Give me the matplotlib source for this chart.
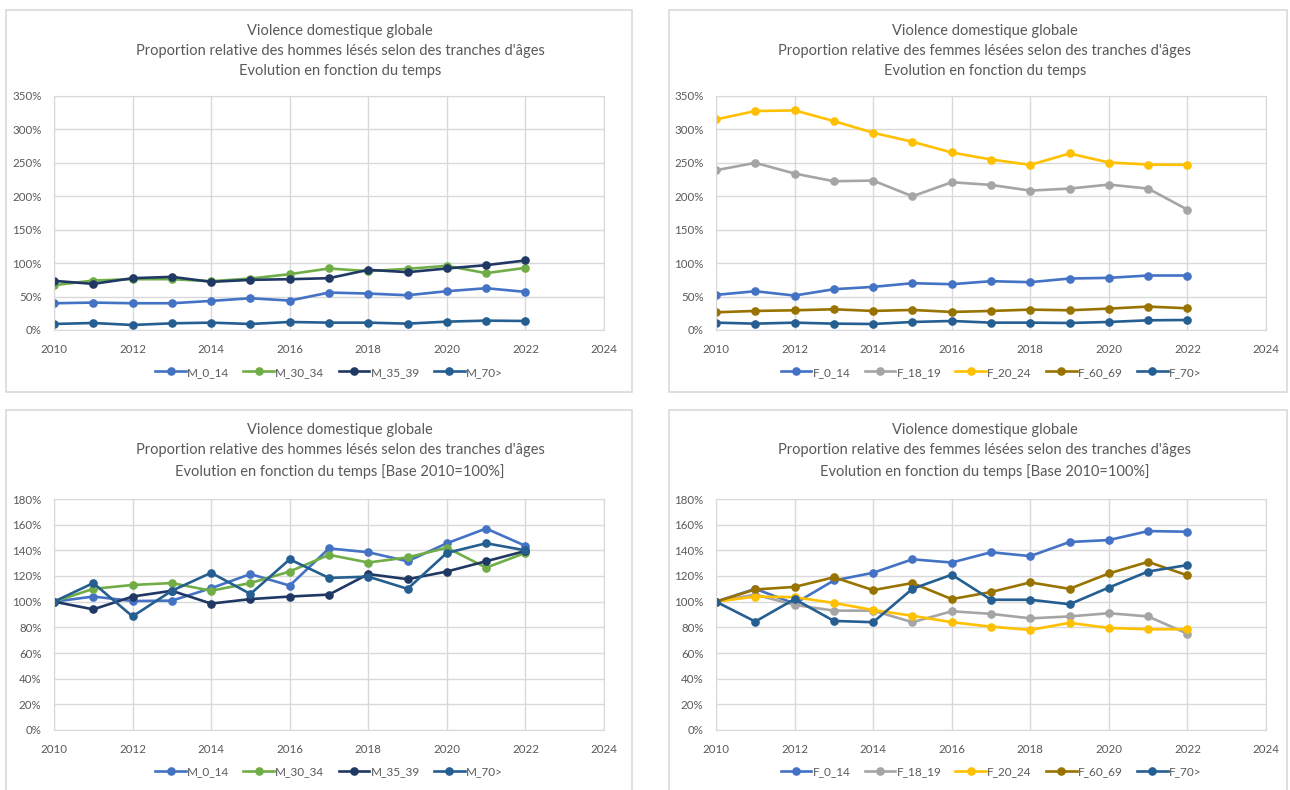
import matplotlib
matplotlib.use('Agg')
import matplotlib.pyplot as plt
from matplotlib.patches import Rectangle
from matplotlib.ticker import FuncFormatter

plt.rcParams['font.family'] = ['Lato', 'DejaVu Sans']

years = [2010, 2011, 2012, 2013, 2014, 2015, 2016, 2017, 2018, 2019, 2020, 2021, 2022]

# Hommes - proportion relative (%)
m_labels = ['M_0_14', 'M_30_34', 'M_35_39', 'M_70>']
m_0_14 = [40, 41, 40, 40, 43.5, 47.5, 44, 56, 54.5, 52, 58, 62.5, 57]
m_30_34 = [67, 74, 76, 76, 73, 77, 83.5, 92, 88, 91.5, 96, 85, 93]
m_35_39 = [73.5, 69, 77.5, 79.5, 72, 75, 76, 77.5, 90, 86.5, 92, 97, 104]
m_70 = [9, 10.5, 7.5, 10, 11, 9, 12, 11, 11, 9.5, 12.5, 14, 13.5]

# Hommes - base 2010 = 100%
m_0_14_idx = [100, 104, 100.5, 100.8, 110.5, 121.5, 112.5, 141.5, 138.5, 131.5, 145.5, 157, 143.5]
m_30_34_idx = [100, 110, 113, 114.5, 108.5, 114.5, 123.5, 136.5, 130.5, 134.5, 142, 126.5, 138]
m_35_39_idx = [100, 94, 104, 108.5, 98.5, 102, 104, 105.5, 121.5, 117.5, 123.5, 131.5, 139.5]
m_70_idx = [100, 114.5, 88.5, 108.5, 122.5, 106, 133, 118.5, 119.5, 110, 138, 145.5, 140]

# Femmes - proportion relative (%)
f_labels = ['F_0_14', 'F_18_19', 'F_20_24', 'F_60_69', 'F_70>']
f_0_14 = [52.5, 58, 51.5, 61, 64.5, 70, 68.5, 73, 71.5, 77, 78, 81.5, 81.5]
f_18_19 = [239, 250, 234, 222.5, 223.5, 200, 221, 217, 208.5, 211.5, 217.5, 211.5, 180]
f_20_24 = [315, 327.5, 328.5, 312.5, 295, 281.5, 265.5, 255, 247, 264, 250.5, 247.5, 247]
f_60_69 = [26.5, 28.5, 29.5, 31, 28.5, 30, 27, 28.5, 30.5, 29.5, 32, 35, 32.5]
f_70 = [11, 9.5, 11, 9.5, 9, 12, 13.5, 11, 11, 10.5, 12, 14.5, 15]

# Femmes - base 2010 = 100%
f_0_14_idx = [100, 110, 98.5, 116.5, 122.5, 133, 130.5, 138.5, 135.5, 146.5, 148, 155, 154.5]
f_18_19_idx = [100, 105.5, 97.5, 93, 93, 84, 92.5, 90.5, 87, 88.5, 91, 88.5, 75]
f_20_24_idx = [100, 104, 103.5, 99, 93.5, 89, 84, 80.5, 78, 83.5, 79.5, 78.5, 78.5]
f_60_69_idx = [100, 109.5, 111.5, 119, 109, 114.5, 102, 107.5, 115, 110, 122, 131, 120.5]
f_70_idx = [100, 84.5, 102, 85, 84, 110, 121, 101.5, 101.5, 98, 111, 123.5, 128.5]

m_colors = ['#4472C4', '#70AD47', '#203864', '#255E91']
f_colors = ['#4472C4', '#A5A5A5', '#FFC000', '#997300', '#255E91']

title_m = "Violence domestique globale\nProportion relative des hommes lésés selon des tranches d'âges\nEvolution en fonction du temps"
title_f = "Violence domestique globale\nProportion relative des femmes lésées selon des tranches d'âges\nEvolution en fonction du temps"
base_txt = " [Base 2010=100%]"

txt_col = '#595959'
grid_col = '#D9D9D9'

fig = plt.figure(figsize=(12.9, 7.9), dpi=100)

# cadres des graphiques
for (x, y, w, h) in [(6, 10, 626, 382), (669, 10, 618, 382), (6, 410, 626, 385), (669, 410, 618, 385)]:
    fig.patches.append(Rectangle((x / 1290, 1 - (y + h) / 790), w / 1290, h / 790,
                                 transform=fig.transFigure, fill=False,
                                 edgecolor=grid_col, linewidth=1.2))


def draw(ax, series, labels, colors, ymax, ystep):
    for vals, lab, col in zip(series, labels, colors):
        ax.plot(years, vals, color=col, lw=1.9, marker='o', ms=5.2, label=lab)
    ax.set_xlim(2010, 2024)
    ax.set_ylim(0, ymax)
    ax.set_xticks(range(2010, 2025, 2))
    ax.set_yticks(range(0, ymax + 1, ystep))
    ax.yaxis.set_major_formatter(FuncFormatter(lambda v, p: f'{int(v)}%'))
    ax.grid(True, color=grid_col, lw=1)
    ax.set_axisbelow(True)
    for s in ax.spines.values():
        s.set_color(grid_col)
    ax.tick_params(length=0, labelsize=8.3, colors=txt_col)
    ax.tick_params(axis='x', pad=10)
    ax.tick_params(axis='y', pad=9)
    ax.legend(loc='center', bbox_to_anchor=(0.5, -0.18), ncol=len(labels), frameon=False,
              fontsize=8.5, labelcolor=txt_col, handlelength=2.6, columnspacing=1.2,
              handletextpad=0.1)


ax1 = fig.add_axes([54 / 1290, 1 - 330 / 790, 550 / 1290, 234 / 790])
draw(ax1, [m_0_14, m_30_34, m_35_39, m_70], m_labels, m_colors, 350, 50)

ax2 = fig.add_axes([716 / 1290, 1 - 330 / 790, 550 / 1290, 234 / 790])
draw(ax2, [f_0_14, f_18_19, f_20_24, f_60_69, f_70], f_labels, f_colors, 350, 50)

ax3 = fig.add_axes([54 / 1290, 1 - 730 / 790, 550 / 1290, 231 / 790])
draw(ax3, [m_0_14_idx, m_30_34_idx, m_35_39_idx, m_70_idx], m_labels, m_colors, 180, 20)

ax4 = fig.add_axes([716 / 1290, 1 - 730 / 790, 550 / 1290, 231 / 790])
draw(ax4, [f_0_14_idx, f_18_19_idx, f_20_24_idx, f_60_69_idx, f_70_idx], f_labels, f_colors, 180, 20)

for cx, cy, t in [(340, 51, title_m), (985, 51, title_f),
                  (340, 451, title_m + base_txt), (985, 451, title_f + base_txt)]:
    fig.text(cx / 1290, 1 - cy / 790, t, ha='center', va='center', fontsize=10.5,
             color=txt_col, linespacing=1.55)

fig.savefig('out.png', dpi=100, facecolor='white')
